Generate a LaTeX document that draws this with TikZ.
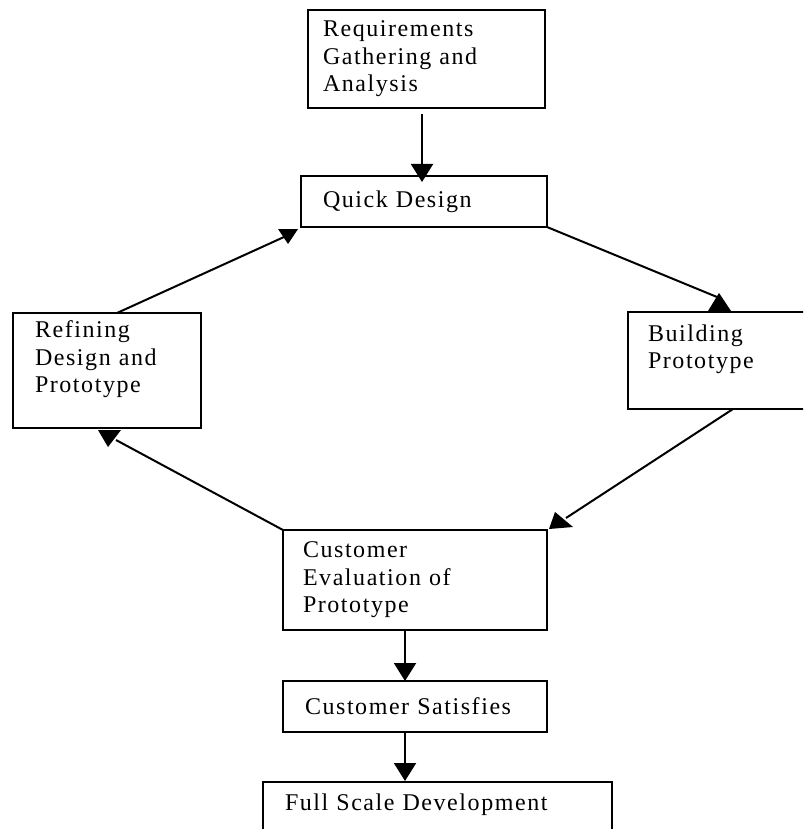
\documentclass[tikz,border=0pt]{standalone}
\usepackage{fontspec}
\setmainfont{Liberation Serif}[LetterSpace=6.5]
\usetikzlibrary{arrows.meta,calc}

\tikzset{
  stage/.style={draw, line width=2pt, rectangle, anchor=north west,
    inner ysep=0pt, outer sep=0pt, align=left,
    font=\fontsize{24}{27.5}\selectfont},
  link/.style={line width=2pt},
  downtip/.style={link, -{Triangle[width=22pt,length=18pt]}},
  head/.style={fill=black},
}

\begin{document}
\begin{tikzpicture}[x=1pt, y=-1pt]
  \useasboundingbox (0,0) rectangle (803,829);
  \fill[white] (0,0) rectangle (803,829);
  \clip (0,0) rectangle (803,829);

  % stages of the prototyping cycle
  \node[stage, inner xsep=15pt, text width=207pt, minimum height=98pt]
    (req) at (308,10) {Requirements\\Gathering and\\Analysis};
  \node[stage, inner xsep=22pt, text width=202pt, minimum height=51pt]
    (qd) at (301,176) {Quick Design};
  \node[stage, inner xsep=22pt, text width=144pt, minimum height=115pt]
    (ref) at (13,313) {Refining\\Design and\\Prototype\\\mbox{}};
  \node[stage, inner xsep=20pt, text width=150pt, minimum height=97pt]
    (bld) at (628,312) {Building\\Prototype\\\mbox{}};
  \node[stage, inner xsep=20pt, text width=224pt, minimum height=100pt]
    (eval) at (283,530) {Customer\\Evaluation of\\Prototype};
  \node[stage, inner xsep=22pt, text width=220pt, minimum height=51pt]
    (sat) at (283,681) {Customer Satisfies};
  \node[stage, inner xsep=22pt, text width=305pt, minimum height=68pt]
    (full) at (263,782) {Full Scale Development\\\mbox{}};

  % straight downward links
  \coordinate (tA) at (422,182);
  \draw[downtip] ($(tA |- req.south)+(0,6)$) -- (tA);
  \coordinate (tF) at (405,681);
  \draw[downtip] (tF |- eval.south) -- (tF);
  \coordinate (tG) at (405,781);
  \draw[downtip] (tG |- sat.south) -- (tG);

  % the loop: refine -> design -> build -> evaluate -> refine
  \coordinate (eB) at (284,237);
  \draw[link] ($(ref.north west)+(104,0)$) -- (eB);
  \fill[head] (278,229) -- (298,229) -- (288,244) -- cycle;

  \coordinate (eC) at (717,297);
  \draw[link] (qd.south east) -- (eC);
  \fill[head] (719,293) -- (731,311) -- (708,311) -- cycle;

  \coordinate (eD) at (566,518);
  \draw[link] ($(bld.south west)+(105,0)$) -- (eD);
  \fill[head] (555,512) -- (573,527) -- (549,529) -- cycle;

  \coordinate (eE) at (116,440);
  \draw[link] (eval.north west) -- (eE);
  \fill[head] (98,430) -- (121,430) -- (108,447) -- cycle;
\end{tikzpicture}
\end{document}
